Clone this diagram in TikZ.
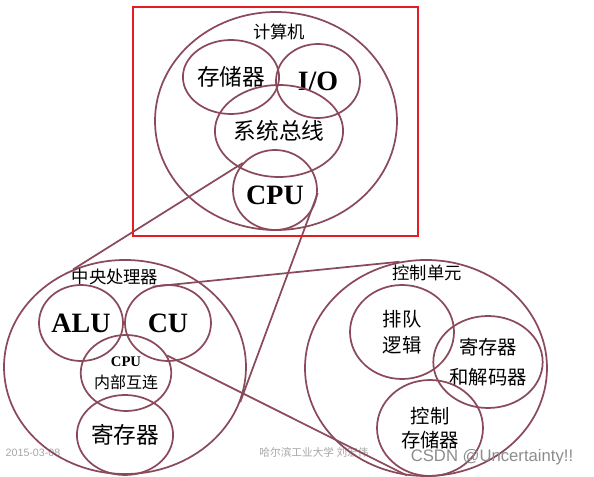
\documentclass[tikz,border=0pt]{standalone}
\usepackage{fontspec}
\setmainfont{Liberation Serif}
\newfontfamily\cjk{Noto Sans CJK SC}
\newfontfamily\wmfont{Liberation Sans}
\usetikzlibrary{positioning, shapes.geometric}
\definecolor{wine}{RGB}{139,74,92}
\definecolor{framered}{RGB}{228,28,36}

\begin{document}
\begin{tikzpicture}[
    x=0.75pt, y=-0.75pt,
    ring/.style={ellipse, draw=wine, line width=1.3pt, inner sep=0pt, align=center},
    heading/.style={font=\cjk\fontsize{13}{13}\selectfont, inner sep=0pt},
    big/.style={font=\cjk\fontsize{17}{17}\selectfont},
    latin/.style={font=\bfseries\fontsize{21}{21}\selectfont},
    small/.style={font=\cjk\fontsize{14}{20}\selectfont},
    zoomline/.style={draw=wine, line width=1.3pt},
    wmark/.style={font=\wmfont\fontsize{8}{8}\selectfont, text=black!35, inner sep=0pt}
]
    \useasboundingbox (0,0) rectangle (594,477);

    % Watermarks
    \node[wmark] (date) at (33,453) {2015-03-08};
    \node[wmark, font=\cjk\fontsize{8}{8}\selectfont] (school) at (314,452) {哈尔滨工业大学\ 刘宏伟};

    % Computer
    \node[ring, minimum width=181.5pt, minimum height=163.5pt] (computer) at (276,121) {};
    \node[heading] (computerlbl) at (279,32) {计算机};
    \node[ring, big, minimum width=63pt, minimum height=55.5pt] (memory) at (231,77) {存储器};
    \node[ring, latin, minimum width=63pt, minimum height=55.5pt] (io) at (318,81) {I/O};
    \node[ring, big, minimum width=78pt, minimum height=69pt] (bus) at (279,131) {系统总线};
    \node[ring, latin, minimum width=63pt, minimum height=60pt] (cpu) at (275,190) {\raisebox{-4pt}[\height][\depth]{CPU}};

    % Central processing unit
    \node[ring, minimum width=181.5pt, minimum height=160.5pt] (processor) at (125,367) {};
    \node[heading] (processorlbl) at (115,277) {中央处理器};
    \node[ring, latin, minimum width=63pt, minimum height=57pt] (alu) at (81,323) {ALU};
    \node[ring, latin, minimum width=64.5pt, minimum height=57pt] (cu) at (168,323) {CU};
    \node[ring, font=\cjk\fontsize{12}{16.5}\selectfont, minimum width=63pt, minimum height=57pt] (inner) at (126,373)
        {{\rmfamily\bfseries\fontsize{11}{16.5}\selectfont CPU}\\内部互连};
    \node[ring, big, minimum width=63pt, minimum height=60pt] (registers) at (125,435) {寄存器};

    % Control unit
    \node[ring, minimum width=181.5pt, minimum height=162pt] (control) at (426,368) {};
    \node[heading] (controllbl) at (427,273) {控制单元};
    \node[ring, small, font=\cjk\fontsize{14.5}{19}\selectfont, minimum width=78pt, minimum height=70.5pt] (queue) at (402,332) {排队\\逻辑};
    \node[ring, small, font=\cjk\fontsize{14.5}{22}\selectfont, minimum width=78pt, minimum height=69pt] (decoder) at (488,362) {寄存器\\和解码器};
    \node[ring, small, font=\cjk\fontsize{14.5}{18}\selectfont, minimum width=79.5pt, minimum height=72pt] (ctrlstore) at (430,428) {控制\\存储器};

    % Zoom lines
    \draw[zoomline] (cpu.140) -- (processor.118);
    \draw[zoomline] (cpu.-4) -- (processor.-17);
    \draw[zoomline] (cu.113) -- (control.104);
    \draw[zoomline] (inner.23) -- (control.260);

    % Highlight frame
    \draw[draw=framered, line width=2pt] (133,7) rectangle (418,236);

    \node[wmark, font=\wmfont\fontsize{12.5}{12.5}\selectfont, text=black!45] (csdn) at (492,457) {CSDN @Uncertainty!!};
\end{tikzpicture}
\end{document}
